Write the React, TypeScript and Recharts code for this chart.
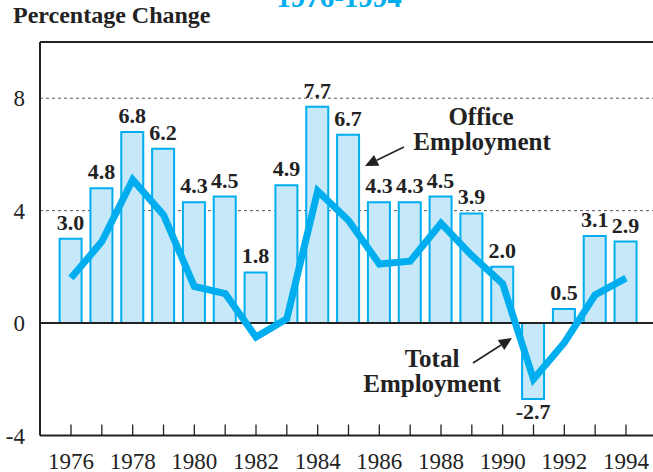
import React from "react";
import {
  ComposedChart,
  Bar,
  Line,
  XAxis,
  YAxis,
  CartesianGrid,
  ReferenceLine,
  LabelList,
} from "recharts";

const years = [
  1976, 1977, 1978, 1979, 1980, 1981, 1982, 1983, 1984, 1985, 1986, 1987,
  1988, 1989, 1990, 1991, 1992, 1993, 1994,
];
const officeEmployment = [
  3.0, 4.8, 6.8, 6.2, 4.3, 4.5, 1.8, 4.9, 7.7, 6.7, 4.3, 4.3, 4.5, 3.9, 2.0,
  -2.7, 0.5, 3.1, 2.9,
];
const totalEmployment = [
  1.6, 2.9, 5.1, 3.85, 1.3, 1.05, -0.5, 0.15, 4.7, 3.65, 2.1, 2.2, 3.55, 2.4,
  1.4, -2.0, -0.7, 1.0, 1.6,
];
const yTicks = [-4, 0, 4, 8];
const yDomain = [-4, 10];

const data = years.map((y, i) => ({
  year: y,
  office: officeEmployment[i],
  total: totalEmployment[i],
}));

const W = 653;
const H = 472;
const SERIF = "'Liberation Serif', 'Times New Roman', serif";
const CYAN = "#00AEEF";

const YearTick = (props: any) => {
  const { x, y, payload } = props;
  const yr = Number(payload.value);
  return (
    <g>
      <line x1={x} x2={x} y1={y} y2={y - 11} stroke="#222" strokeWidth={1.3} />
      {yr % 2 === 0 && (
        <text
          x={x}
          y={y + 33}
          textAnchor="middle"
          fontFamily={SERIF}
          fontSize={23}
          fill="#222"
        >
          {yr}
        </text>
      )}
    </g>
  );
};

const BarLabel = (props: any) => {
  const { x, y, width, height, value } = props;
  const top = Math.min(y, y + height);
  const bottom = Math.max(y, y + height);
  const cx = x + width / 2;
  const v = Number(value);
  return (
    <text
      x={cx}
      y={v >= 0 ? top - 9 : bottom + 20}
      textAnchor="middle"
      fontFamily={SERIF}
      fontWeight="bold"
      fontSize={22}
      fill="#222"
    >
      {v.toFixed(1)}
    </text>
  );
};

const Arrow = ({ x1, y1, x2, y2 }: { x1: number; y1: number; x2: number; y2: number }) => {
  const dx = x2 - x1;
  const dy = y2 - y1;
  const len = Math.sqrt(dx * dx + dy * dy);
  const ux = dx / len;
  const uy = dy / len;
  const hl = 13;
  const hw = 6;
  const bx = x2 - ux * hl;
  const by = y2 - uy * hl;
  const px = -uy;
  const py = ux;
  return (
    <g>
      <line x1={x1} y1={y1} x2={bx} y2={by} stroke="#222" strokeWidth={1.6} />
      <polygon
        points={`${x2},${y2} ${bx + px * hw},${by + py * hw} ${bx - px * hw},${by - py * hw}`}
        fill="#222"
      />
    </g>
  );
};

export default function App() {
  return (
    <div style={{ position: "absolute", left: 0, top: 0, width: W, height: H }}>
      <ComposedChart
        width={W}
        height={H}
        data={data}
        margin={{ top: 42, right: 0, bottom: 0, left: 0 }}
      >
        <CartesianGrid
          horizontal={true}
          vertical={false}
          stroke="#555"
          strokeDasharray="3 3"
          strokeWidth={1}
        />
        <XAxis
          dataKey="year"
          type="category"
          interval={0}
          height={36.5}
          padding={{ left: 15.6, right: 11.6 }}
          axisLine={{ stroke: "#222", strokeWidth: 2 }}
          tickLine={false}
          tickSize={0}
          tickMargin={0}
          tick={<YearTick />}
        />
        <YAxis
          domain={yDomain}
          ticks={yTicks}
          width={40}
          interval={0}
          axisLine={{ stroke: "#222", strokeWidth: 2 }}
          tickLine={false}
          tickSize={0}
          tickMargin={15}
          tick={{ fontFamily: SERIF, fontSize: 23, fill: "#222" }}
        />
        <ReferenceLine y={10} stroke="#222" strokeWidth={2} />
        <Bar
          dataKey="office"
          barSize={22}
          fill="#C6E8F8"
          stroke={CYAN}
          strokeWidth={2}
          isAnimationActive={false}
        >
          <LabelList dataKey="office" content={<BarLabel />} />
        </Bar>
        <ReferenceLine y={0} stroke="#222" strokeWidth={2} />
        <Line
          dataKey="total"
          type="linear"
          stroke={CYAN}
          strokeWidth={7}
          dot={false}
          activeDot={false}
          isAnimationActive={false}
        />
      </ComposedChart>
      <svg
        width={W}
        height={H}
        style={{ position: "absolute", left: 0, top: 0, pointerEvents: "none" }}
      >
        <text
          x={339}
          y={7}
          textAnchor="middle"
          fontFamily={SERIF}
          fontWeight="bold"
          fontSize={29}
          fill={CYAN}
        >
          1976-1994
        </text>
        <text x={13} y={23} fontFamily={SERIF} fontWeight="bold" fontSize={24} fill="#222">
          Percentage Change
        </text>
        <text x={481} y={125} textAnchor="middle" fontFamily={SERIF} fontWeight="bold" fontSize={25} fill="#222">
          Office
        </text>
        <text x={482} y={150} textAnchor="middle" fontFamily={SERIF} fontWeight="bold" fontSize={25} fill="#222">
          Employment
        </text>
        <Arrow x1={404} y1={147} x2={365} y2={166} />
        <text x={432} y={367} textAnchor="middle" fontFamily={SERIF} fontWeight="bold" fontSize={25} fill="#222">
          Total
        </text>
        <text x={432} y={392} textAnchor="middle" fontFamily={SERIF} fontWeight="bold" fontSize={25} fill="#222">
          Employment
        </text>
        <Arrow x1={473} y1={363} x2={512} y2={338} />
      </svg>
    </div>
  );
}
